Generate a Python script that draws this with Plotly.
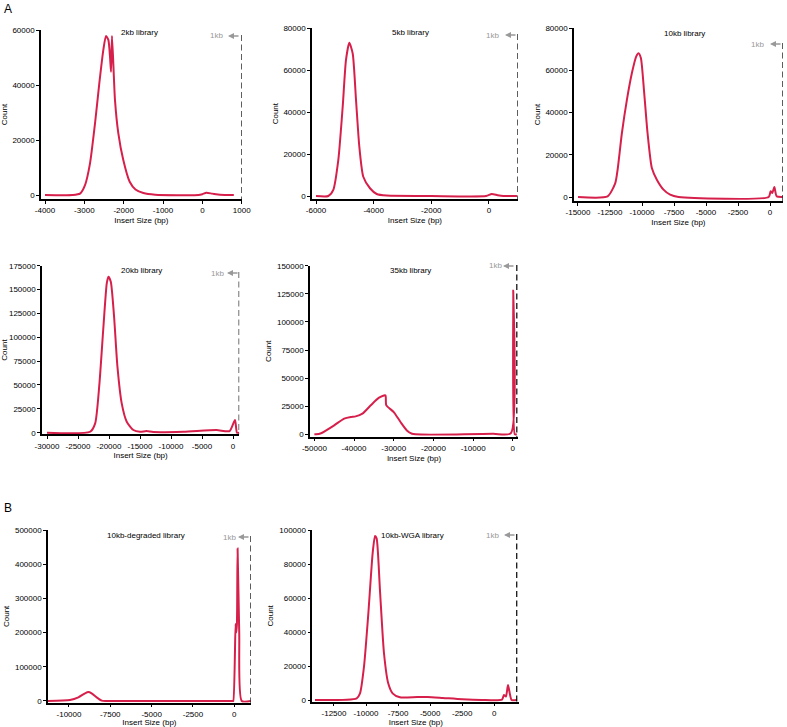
import plotly.graph_objects as go

W, H = 787, 727
RED = "#d6204b"
GRAY = "#999999"
FONT = "Liberation Sans, Arial, sans-serif"

# ---------------- data ----------------
titles = ["2kb library", "5kb library", "10kb library", "20kb library",
          "35kb library", "10kb-degraded library", "10kb-WGA library"]

x_2kb = [-4000, -3300, -3110, -2983, -2856, -2729, -2620, -2518, -2450, -2390, -2348,
         -2322, -2297, -2221, -2137, -2010, -1848, -1700, -1500, -1200, -100, 0, 100, 250, 450, 800]
y_2kb = [0, 0, 500, 3600, 11500, 26000, 40600, 52700, 57800, 56400, 50300,
         44800, 57800, 34500, 22500, 12700, 4800, 2000, 700, 100, 0, 300, 800, 500, 100, 0]

x_5kb = [-6000, -5573, -5400, -5226, -5074, -4960, -4845, -4727, -4612, -4497, -4360,
         -4127, -3894, -3547, -2000, -100, 95, 300, 500, 970]
y_5kb = [0, 0, 2900, 17200, 42600, 64900, 73100, 68000, 45800, 23500, 9200,
         3700, 950, 200, 0, 0, 1000, 400, 0, 0]

x_10kb = [-15000, -12686, -12088, -11906, -11569, -11179, -10789, -10450, -10270, -10087,
          -9827, -9567, -9230, -8840, -8320, -7800, -7150, -100, 50, 180, 340, 520, 1000]
y_10kb = [0, 300, 6600, 12900, 30300, 46000, 58700, 66600, 68100, 65800,
          49200, 30300, 13700, 8200, 3500, 1100, 0, 0, 2700, 1900, 4700, 300, 0]

x_20kb = [-30000, -23040, -22230, -21540, -20900, -20360, -20090, -19710, -19180, -18640,
          -17950, -17140, -16070, -15000, -13930, -12860, -8000, -2680, -540, 320, 640, 1000]
y_20kb = [0, 1000, 9800, 51700, 111000, 156500, 163500, 158200, 121500, 69200,
          30700, 11500, 2800, 1000, 1700, 700, 1000, 2800, 1700, 13300, 0, 0]

x_35kb = [-50000, -49600, -48300, -45000, -42500, -40800, -39600, -37900, -35800, -33700,
          -32100, -31900, -30000, -28300, -26700, -25400, -24500, -5000, -500, 100, 500, 1000]
y_35kb = [0, 0, 1000, 8000, 14000, 15500, 16000, 18400, 25800, 32600,
          34700, 26000, 19800, 11000, 3500, 500, 0, 500, 1000, 128000, 0, 0]

x_deg = [-11270, -9940, -9435, -9030, -8830, -8630, -8327, -8024, -7720, -100, -60,
         80, 120, 160, 200, 300, 450, 1000]
y_deg = [0, 2900, 10700, 22400, 26300, 22400, 10700, 1000, 0, 0, 0,
         225000, 200000, 225000, 446000, 200000, 0, 0]

x_wga = [-13980, -10730, -10470, -10160, -9820, -9485, -9300, -9175, -8915, -8600,
         -8270, -7930, -7360, -6000, -5200, -4000, -2500, -1000, 600, 750, 910, 1070, 1350, 1750]
y_wga = [0, 1000, 3900, 19600, 51000, 86300, 96500, 95100, 64700, 27500,
         9800, 3900, 1600, 1800, 1800, 1200, 400, 0, 200, 3000, 2000, 8800, 0, 0]

series_x = [x_2kb, x_5kb, x_10kb, x_20kb, x_35kb, x_deg, x_wga]
series_y = [y_2kb, y_5kb, y_10kb, y_20kb, y_35kb, y_deg, y_wga]

xticks = [
    [-4000, -3000, -2000, -1000, 0, 1000],
    [-6000, -4000, -2000, 0],
    [-15000, -12500, -10000, -7500, -5000, -2500, 0],
    [-30000, -25000, -20000, -15000, -10000, -5000, 0],
    [-50000, -40000, -30000, -20000, -10000, 0],
    [-10000, -7500, -5000, -2500, 0],
    [-12500, -10000, -7500, -5000, -2500, 0],
]
yticks = [
    [0, 20000, 40000, 60000],
    [0, 20000, 40000, 60000, 80000],
    [0, 20000, 40000, 60000, 80000],
    [0, 25000, 50000, 75000, 100000, 125000, 150000, 175000],
    [0, 25000, 50000, 75000, 100000, 125000, 150000],
    [0, 100000, 200000, 300000, 400000, 500000],
    [0, 20000, 40000, 60000, 80000, 100000],
]
kb_line_x = [1000, 1000, 1000, 1000, 1000, 1000, 1750]

# ---------------- layout (pixel geometry) ----------------
panels = [
    ((41, 241.7, 30, 199), [-4102, 1000], [-1455, 60000]),
    ((312, 517.8, 28.3, 199), [-6139, 1000], [-1430, 80000]),
    ((574, 782.8, 28, 201), [-15312, 1000], [-1890, 80000]),
    ((42, 239.2, 265.7, 434.3), [-30806, 1000], [-1680, 175000]),
    ((310, 518, 265.7, 436.7), [-51100, 1300], [-2100, 150000]),
    ((48, 250.8, 530, 702.7), [-11270, 1000], [-5000, 500000]),
    ((312.3, 519.3, 530, 701.7), [-14190, 1950], [-1000, 100000]),
]
title_pos = [(139, 32), (410, 32), (684.5, 33), (141, 270), (410, 270), (146, 535), (412.5, 535)]
kb_pos = [(216, 36, 240, 36), (493, 35, 517, 35), (757, 44, 782, 44), (217, 273, 239, 273),
          (495, 266, 515, 266), (229, 537, 250, 537), (493, 535, 516, 535)]

def px(x):
    return x / W

def py(y):
    return 1 - y / H

fig = go.Figure()
layout = dict(width=W, height=H, margin=dict(l=0, r=0, t=0, b=0, pad=0, autoexpand=False),
              paper_bgcolor="white", plot_bgcolor="white", showlegend=False,
              font=dict(family=FONT, size=8, color="black"))
shapes = []
annotations = []

for i in range(7):
    n = "" if i == 0 else str(i + 1)
    (l, r, t, b), xr, yr = panels[i]
    fig.add_trace(go.Scatter(x=series_x[i], y=series_y[i], mode="lines",
                             line=dict(color=RED, width=2, shape="spline", smoothing=0.6),
                             xaxis="x" + n, yaxis="y" + n, cliponaxis=False,
                             hoverinfo="x+y"))
    layout["xaxis" + n] = dict(
        domain=[px(l), px(r)], range=xr, anchor="y" + n, showline=True, linecolor="black",
        linewidth=1.5, ticks="outside", ticklen=3, tickwidth=1, tickcolor="black",
        showgrid=False, zeroline=False, tickvals=xticks[i], automargin=False,
        ticktext=[str(v) for v in xticks[i]], tickfont=dict(size=8),
        title=dict(text="Insert Size (bp)", font=dict(size=8), standoff=3))
    layout["yaxis" + n] = dict(
        domain=[py(b), py(t)], range=yr, anchor="x" + n, showline=True, linecolor="black",
        linewidth=1.5, ticks="outside", ticklen=3, tickwidth=1, tickcolor="black",
        showgrid=False, zeroline=False, tickvals=yticks[i], automargin=False,
        ticktext=[str(v) for v in yticks[i]], tickfont=dict(size=8),
        title=dict(text="Count", font=dict(size=8), standoff=4))
    tx, ty, ax_, ay_ = kb_pos[i]
    shapes.append(dict(type="line", xref="x" + n, yref="paper",
                       x0=kb_line_x[i], x1=kb_line_x[i], y0=py(ty - 1), y1=py(b),
                       line=dict(color="black", width=1.2, dash="6px,3.5px")))
    annotations.append(dict(text=titles[i], x=px(title_pos[i][0]), y=py(title_pos[i][1]),
                            xref="paper", yref="paper", showarrow=False,
                            font=dict(size=8, color="black"), xanchor="center", yanchor="middle"))
    annotations.append(dict(text="1kb", x=px(tx), y=py(ty), xref="paper", yref="paper",
                            showarrow=False, font=dict(size=8, color=GRAY),
                            xanchor="center", yanchor="middle"))
    annotations.append(dict(text="", x=px(ax_ - 12), y=py(ay_), xref="paper", yref="paper",
                            showarrow=True, ax=12, ay=0, arrowhead=2, arrowsize=0.8,
                            arrowwidth=1.5, arrowcolor=GRAY))

annotations.append(dict(text="A", x=px(7.5), y=py(9), xref="paper", yref="paper",
                        xanchor="center", yanchor="middle",
                        showarrow=False, font=dict(size=12, color="black")))
annotations.append(dict(text="B", x=px(7.5), y=py(507.5), xref="paper", yref="paper",
                        xanchor="center", yanchor="middle",
                        showarrow=False, font=dict(size=12, color="black")))

layout["shapes"] = shapes
layout["annotations"] = annotations
fig.update_layout(**layout)
fig.write_html("out.html", config={"displayModeBar": False},
               post_script="document.body.style.margin='0';document.body.style.overflow='hidden';")
